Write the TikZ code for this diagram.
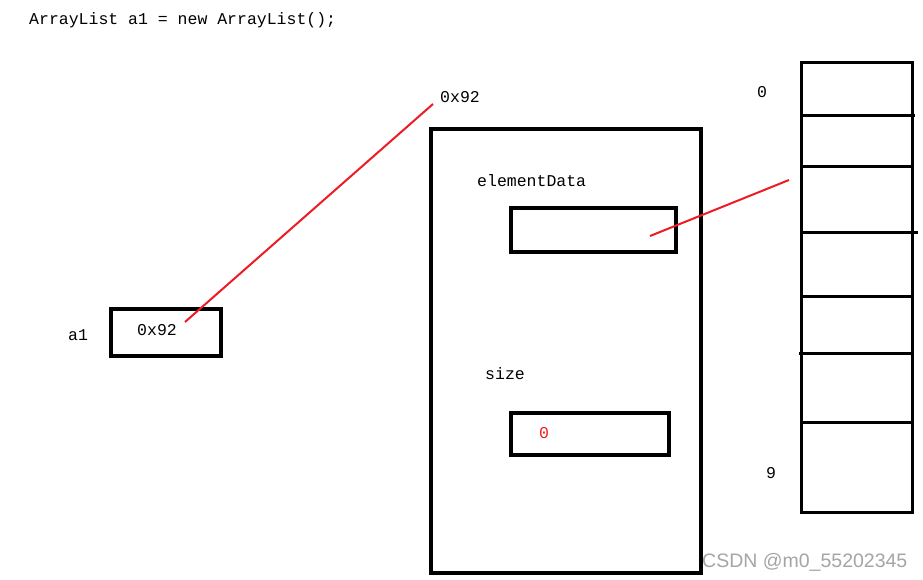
\documentclass[tikz,border=0pt]{standalone}
\usepackage{fontspec}
\setmonofont{Liberation Mono}
\newfontfamily\wmfont{Liberation Sans}
\definecolor{pred}{RGB}{237,28,36}
\definecolor{wmgray}{RGB}{165,165,165}
\begin{document}
\begin{tikzpicture}[x=1pt,y=-1pt,
  txt/.style={inner sep=0pt,anchor=base west,font=\ttfamily\fontsize{16.5}{18}\selectfont},
  thickbox/.style={draw=black,line width=4.2pt,inner sep=0pt,fill=none},
  arrbox/.style={draw=black,line width=3pt,inner sep=0pt},
  divider/.style={draw=black,line width=3pt},
  redline/.style={draw=pred,line width=2pt}]
\useasboundingbox (0,0) rectangle (923,580);
\fill[white] (0,0) rectangle (923,580);
% texts
\node[txt] (title) at (29,25) {ArrayList a1 = new ArrayList();};
\node[txt] (addr) at (440,103) {0x92};
\node[txt] (edlbl) at (477,187) {elementData};
\node[txt] (a1lbl) at (68,340) {a1};
\node[txt] (sizelbl) at (485,379) {size};
\node[txt] (idx0) at (757,98) {0};
\node[txt] (idx9) at (766,478) {9};
% boxes
\node[thickbox,minimum width=110pt,minimum height=47pt] (a1box) at (166,332.5) {};
\node[txt] (a1val) at (137,335) {0x92};
\node[thickbox,minimum width=270pt,minimum height=444pt] (obj) at (566,351) {};
\node[thickbox,minimum width=165pt,minimum height=44pt] (edbox) at (593.5,230) {};
\node[thickbox,minimum width=158pt,minimum height=42pt] (sizebox) at (590,434) {};
\node[txt,text=pred] (sizeval) at (539,438) {0};
% array
\node[arrbox,minimum width=111pt,minimum height=449pt] (arr) at (856.5,287.5) {};
\coordinate (d1a) at (803,116); \coordinate (d1b) at (915,116);
\coordinate (d2a) at (801,167); \coordinate (d2b) at (912,167);
\coordinate (d3a) at (801,232); \coordinate (d3b) at (918,232);
\coordinate (d4a) at (801,296); \coordinate (d4b) at (912,296);
\coordinate (d5a) at (799,353); \coordinate (d5b) at (912,353);
\coordinate (d6a) at (801,422); \coordinate (d6b) at (912,422);
\draw[divider] (d1a) -- (d1b);
\draw[divider] (d2a) -- (d2b);
\draw[divider] (d3a) -- (d3b);
\draw[divider] (d4a) -- (d4b);
\draw[divider] (d5a) -- (d5b);
\draw[divider] (d6a) -- (d6b);
% red connectors
\coordinate (r1s) at (185,322);
\coordinate (r1e) at (433,104);
\coordinate (r2s) at (650,236);
\coordinate (r2e) at (789,180);
\draw[redline] (r1s) -- (r1e);
\draw[redline] (r2s) -- (r2e);
% watermark
\node[inner sep=0pt,anchor=base west,text=wmgray,font=\wmfont\fontsize{19.5}{22}\selectfont] (wm) at (702,567) {CSDN @m0\_55202345};
\end{tikzpicture}
\end{document}
